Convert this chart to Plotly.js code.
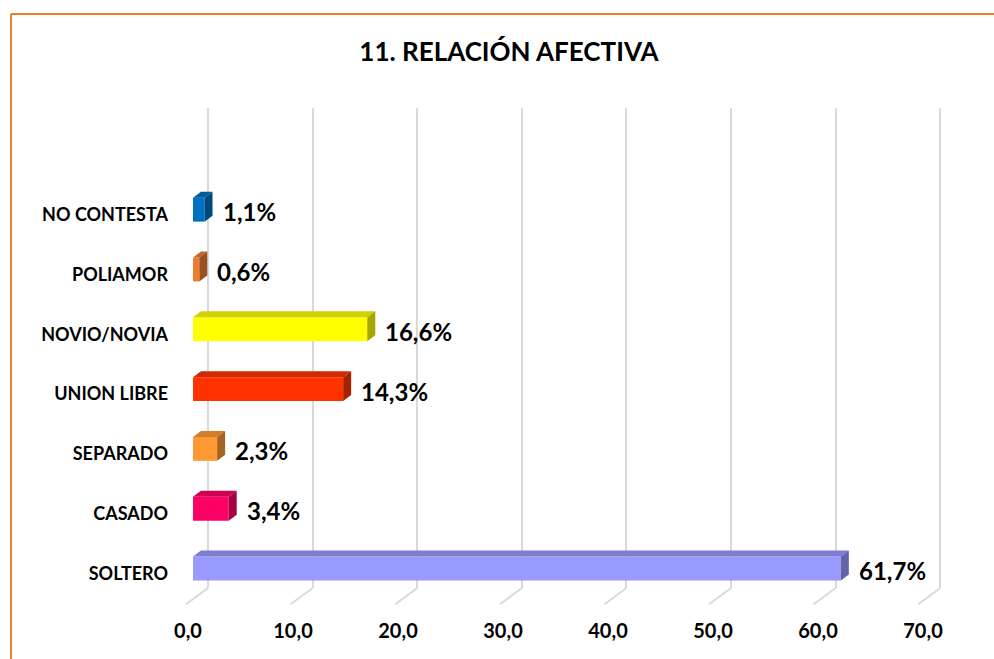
<!DOCTYPE html>
<html>
<head>
<meta charset="utf-8">
<script src="https://cdn.plot.ly/plotly-3.0.1.min.js"></script>
<style>html,body{margin:0;padding:0;background:#fff;}#chart{width:994px;height:659px;}</style>
</head>
<body>
<div id="chart"></div>
<script>
// ---- data (bottom to top) ----
const categories = ['SOLTERO', 'CASADO', 'SEPARADO', 'UNION LIBRE', 'NOVIO/NOVIA', 'POLIAMOR', 'NO CONTESTA'];
const values = [61.7, 3.4, 2.3, 14.3, 16.6, 0.6, 1.1];
const frontColors = ['#9999FF', '#FF0066', '#FF9933', '#FF3300', '#FFFF00', '#ED7D31', '#0070C0'];
const xTicks = [0, 10, 20, 30, 40, 50, 60, 70];
const title = '11. RELACIÓN AFECTIVA';

// ---- styling helpers ----
const FONT = 'Lato, "Open Sans", sans-serif';
const BAR_W = 0.40;      // bar thickness in category units
const DX = 0.76;         // 3D depth in x units
const DY = 0.10;         // 3D depth in category units

function shade(hex, f) {
  const n = parseInt(hex.slice(1), 16);
  const r = Math.round(((n >> 16) & 255) * f);
  const g = Math.round(((n >> 8) & 255) * f);
  const b = Math.round((n & 255) * f);
  return 'rgb(' + r + ',' + g + ',' + b + ')';
}

const idx = categories.map((c, i) => i);
const traces = [];

// front faces
traces.push({
  type: 'bar', orientation: 'h', x: values, y: idx, width: BAR_W,
  marker: {color: frontColors, line: {width: 0}}, hoverinfo: 'skip', xaxis: 'x', yaxis: 'y'
});

// top and side faces
values.forEach((v, i) => {
  const h = BAR_W / 2;
  traces.push({
    type: 'scatter', mode: 'lines', fill: 'toself', xaxis: 'x', yaxis: 'y',
    x: [0, DX, v + DX, v, 0],
    y: [i + h, i + h + DY, i + h + DY, i + h, i + h],
    fillcolor: shade(frontColors[i], 0.82), line: {width: 0}, hoverinfo: 'skip'
  });
  traces.push({
    type: 'scatter', mode: 'lines', fill: 'toself', xaxis: 'x', yaxis: 'y',
    x: [v, v + DX, v + DX, v, v],
    y: [i - h, i - h + DY, i + h + DY, i + h, i - h],
    fillcolor: shade(frontColors[i], 0.65), line: {width: 0}, hoverinfo: 'skip'
  });
});

// invisible trace to hold the back-wall grid axis
traces.push({type: 'scatter', mode: 'markers', x: [0], y: [0], xaxis: 'x2', yaxis: 'y',
  marker: {opacity: 0}, hoverinfo: 'skip'});

const annotations = values.map((v, i) => ({
  x: v + DX, y: i + DY / 2, xref: 'x', yref: 'y',
  text: v.toFixed(1).replace('.', ',') + '%',
  showarrow: false, xanchor: 'left', yanchor: 'middle', xshift: 8, yshift: -5,
  font: {family: FONT, size: 24, color: '#000', weight: 700}
}));

const shapes = [];
// floor diagonals from back grid to front ticks
xTicks.forEach(t => {
  shapes.push({type: 'line', xref: 'x2', yref: 'paper', x0: t, y0: 0, x1: t - 2.1, y1: -0.034,
    line: {color: '#d9d9d9', width: 2}, layer: 'below'});
});
// orange chart border (top and left visible)
shapes.push({type: 'line', xref: 'paper', yref: 'paper', x0: -0.2103, x1: 1.06, y0: 1.196, y1: 1.196,
  line: {color: '#ED7D31', width: 2}});
shapes.push({type: 'line', xref: 'paper', yref: 'paper', x0: -0.2103, x1: -0.2103, y0: 1.196, y1: -0.2,
  line: {color: '#ED7D31', width: 2}});

const layout = {
  width: 994, height: 659,
  margin: {l: 175, r: 39, t: 108, b: 71},
  paper_bgcolor: '#fff', plot_bgcolor: 'rgba(0,0,0,0)',
  showlegend: false,
  separators: ',.',
  title: {text: title, x: 0.512, xref: 'container', xanchor: 'center', y: 0.921, yref: 'container', yanchor: 'middle',
    font: {family: FONT, size: 26, color: '#000', weight: 700}},
  xaxis: {
    range: [-1.714, 72.571], tickvals: xTicks, tickformat: '.1f', showgrid: false, zeroline: false,
    showline: false, ticks: '', ticklabelshift: -5, ticklabelstandoff: 29,
    tickfont: {family: FONT, size: 20, color: '#000', weight: 700}, fixedrange: true
  },
  xaxis2: {
    overlaying: 'x', anchor: 'y', range: [-3.155, 71.41], tickvals: xTicks, showgrid: true,
    gridcolor: '#d9d9d9', gridwidth: 2, showticklabels: false, zeroline: false, showline: false, ticks: ''
  },
  yaxis: {
    range: [-0.326, 7.70], tickvals: idx, ticktext: categories, showgrid: false, zeroline: false,
    showline: false, ticks: '', ticklabelstandoff: 6, ticklabelshift: 5,
    tickfont: {family: FONT, size: 18, color: '#000', weight: 700}, fixedrange: true
  },
  annotations: annotations,
  shapes: shapes
};

Plotly.newPlot('chart', traces, layout, {displayModeBar: false, staticPlot: true});
</script>
</body>
</html>
